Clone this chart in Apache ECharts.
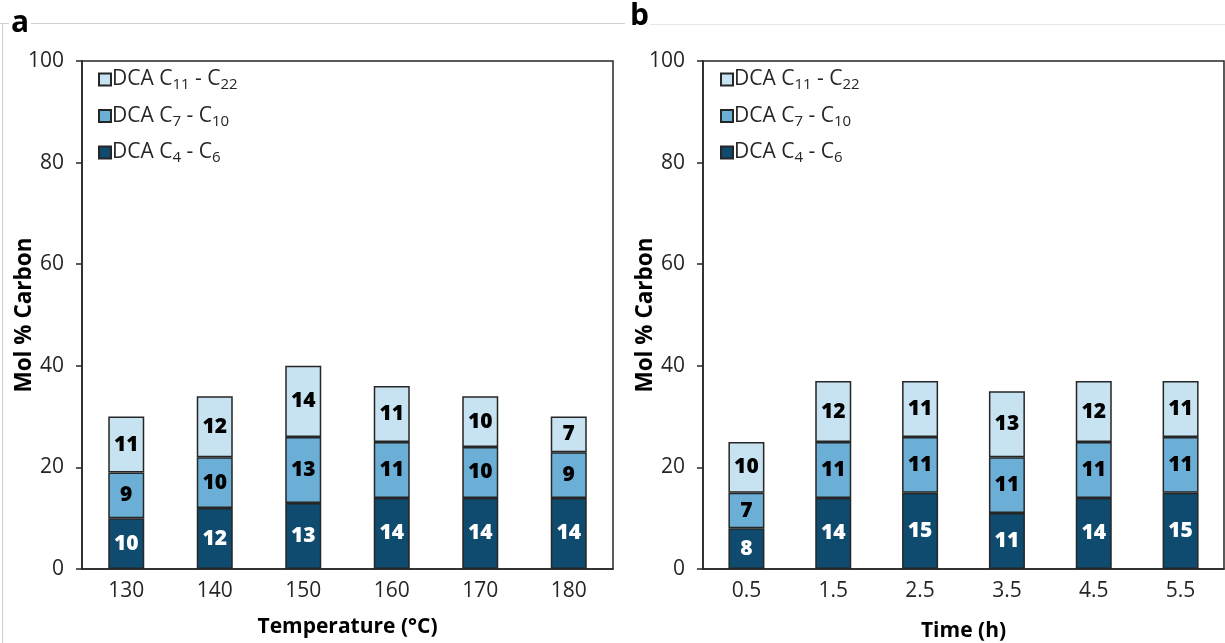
<!DOCTYPE html>
<html>
<head>
<meta charset="utf-8">
<script src="https://cdn.jsdelivr.net/npm/echarts@6/dist/echarts.min.js"></script>
<style>
  html, body { margin: 0; padding: 0; background: #fff; }
  #chart { width: 1225px; height: 643px; }
</style>
</head>
<body>
<div id="chart"></div>
<script>
// Category labels for the two panels
const temperatures = ['130', '140', '150', '160', '170', '180'];
const times = ['0.5', '1.5', '2.5', '3.5', '4.5', '5.5'];

// Mol % carbon by dicarboxylic acid chain-length group, panel a (temperature)
const tempC4C6 = [10, 12, 13, 14, 14, 14];
const tempC7C10 = [9, 10, 13, 11, 10, 9];
const tempC11C22 = [11, 12, 14, 11, 10, 7];

// Panel b (reaction time)
const timeC4C6 = [8, 14, 15, 11, 14, 15];
const timeC7C10 = [7, 11, 11, 11, 11, 11];
const timeC11C22 = [10, 12, 11, 13, 12, 11];

const seriesNames = ['DCA C4 - C6', 'DCA C7 - C10', 'DCA C11 - C22'];
// legend text with chain-length subscripts
const legendRich = {
  'DCA C4 - C6': '{t|DCA C}{s|4}{t| - C}{s|6}',
  'DCA C7 - C10': '{t|DCA C}{s|7}{t| - C}{s|10}',
  'DCA C11 - C22': '{t|DCA C}{s|11}{t| - C}{s|22}'
};
const yTicks = [0, 20, 40, 60, 80, 100];

const FONT = '"Open Sans", "Noto Sans", sans-serif';
const INK = '#262626';
const colors = ['#0F4B6E', '#6BAFD7', '#C7E3F1'];
const labelColors = ['#ffffff', '#000000', '#000000'];

function makeSeries(idx, groups) {
  return groups.map((data, k) => ({
    name: seriesNames[k],
    type: 'bar',
    xAxisIndex: idx,
    yAxisIndex: idx,
    stack: 'total' + idx,
    barWidth: 36,
    data: data,
    itemStyle: { color: colors[k], borderColor: INK, borderWidth: 1.5 },
    label: {
      show: true,
      position: 'inside',
      color: labelColors[k],
      fontFamily: FONT,
      fontWeight: 800,
      fontSize: 21
    },
    emphasis: { disabled: true }
  }));
}

function yAxis(idx) {
  return {
    type: 'value',
    gridIndex: idx,
    min: yTicks[0],
    max: yTicks[yTicks.length - 1],
    interval: yTicks[1] - yTicks[0],
    name: 'Mol % Carbon',
    nameLocation: 'middle',
    nameRotate: 90,
    nameGap: 46,
    nameMoveOverlap: false,
    nameTextStyle: { fontFamily: FONT, fontWeight: 'bold', fontSize: 22.5, color: '#000' },
    axisLine: { show: true, lineStyle: { color: INK, width: 1.5 } },
    axisTick: { show: true, inside: false, length: 6, lineStyle: { color: INK, width: 1.5 } },
    axisLabel: { fontFamily: FONT, fontSize: 21, color: INK, margin: 18 },
    splitLine: { show: false }
  };
}

function xAxis(idx, cats, title, gap) {
  return {
    type: 'category',
    gridIndex: idx,
    data: cats,
    name: title,
    nameLocation: 'middle',
    nameGap: gap,
    nameTextStyle: { fontFamily: FONT, fontWeight: 'bold', fontSize: 21, color: '#000' },
    axisLine: { show: true, lineStyle: { color: INK, width: 1.5 } },
    axisTick: { show: false },
    axisLabel: { fontFamily: FONT, fontSize: 21, color: INK, margin: 12 }
  };
}

function legend(left) {
  return {
    orient: 'vertical',
    left: left,
    top: 64,
    itemWidth: 12,
    itemHeight: 12,
    itemGap: 13,
    icon: 'rect',
    data: seriesNames.slice().reverse(),
    formatter: (name) => legendRich[name],
    textStyle: {
      fontFamily: FONT,
      fontSize: 21,
      color: INK,
      padding: [0, 0, 0, -4],
      rich: {
        t: { fontFamily: FONT, fontSize: 21, color: INK, lineHeight: 26, verticalAlign: 'middle' },
        s: { fontFamily: FONT, fontSize: 15, color: INK, lineHeight: 13, verticalAlign: 'bottom' }
      }
    },
    selectedMode: false
  };
}

const chart = echarts.init(document.getElementById('chart'), null, { renderer: 'canvas' });

chart.setOption({
  animation: false,
  backgroundColor: '#ffffff',
  grid: [
    { left: 82, top: 61, width: 531, height: 508, outerBoundsMode: 'none', show: true, borderColor: INK, borderWidth: 1.5, backgroundColor: '#fff' },
    { left: 703, top: 61, width: 521, height: 508, outerBoundsMode: 'none', show: true, borderColor: INK, borderWidth: 1.5, backgroundColor: '#fff' }
  ],
  legend: [legend(93), legend(715)],
  xAxis: [
    xAxis(0, temperatures, 'Temperature (°C)', 48),
    xAxis(1, times, 'Time (h)', 52)
  ],
  yAxis: [yAxis(0), yAxis(1)],
  series: [
    ...makeSeries(0, [tempC4C6, tempC7C10, tempC11C22]),
    ...makeSeries(1, [timeC4C6, timeC7C10, timeC11C22])
  ],
  graphic: [
    // light frame edges of each panel
    { type: 'line', shape: { x1: 0, y1: 23.5, x2: 625, y2: 23.5 }, style: { stroke: '#d0d0d0', lineWidth: 1 }, z: 0 },
    { type: 'line', shape: { x1: 2.5, y1: 23, x2: 2.5, y2: 643 }, style: { stroke: '#d0d0d0', lineWidth: 1 }, z: 0 },
    { type: 'line', shape: { x1: 650, y1: 24.5, x2: 1225, y2: 24.5 }, style: { stroke: '#e6e6e6', lineWidth: 1 }, z: 0 },
    // panel letters
    { type: 'rect', shape: { x: 9, y: 14, width: 22, height: 20 }, style: { fill: '#fff' }, z: 1 },
    { type: 'text', left: 11, top: 8, style: { text: 'a', fontFamily: FONT, fontWeight: 'bold', fontSize: 30, fill: '#000' }, z: 2 },
    { type: 'text', left: 630, top: 1, style: { text: 'b', fontFamily: FONT, fontWeight: 'bold', fontSize: 30, fill: '#000' }, z: 2 }
  ]
});
</script>
</body>
</html>
